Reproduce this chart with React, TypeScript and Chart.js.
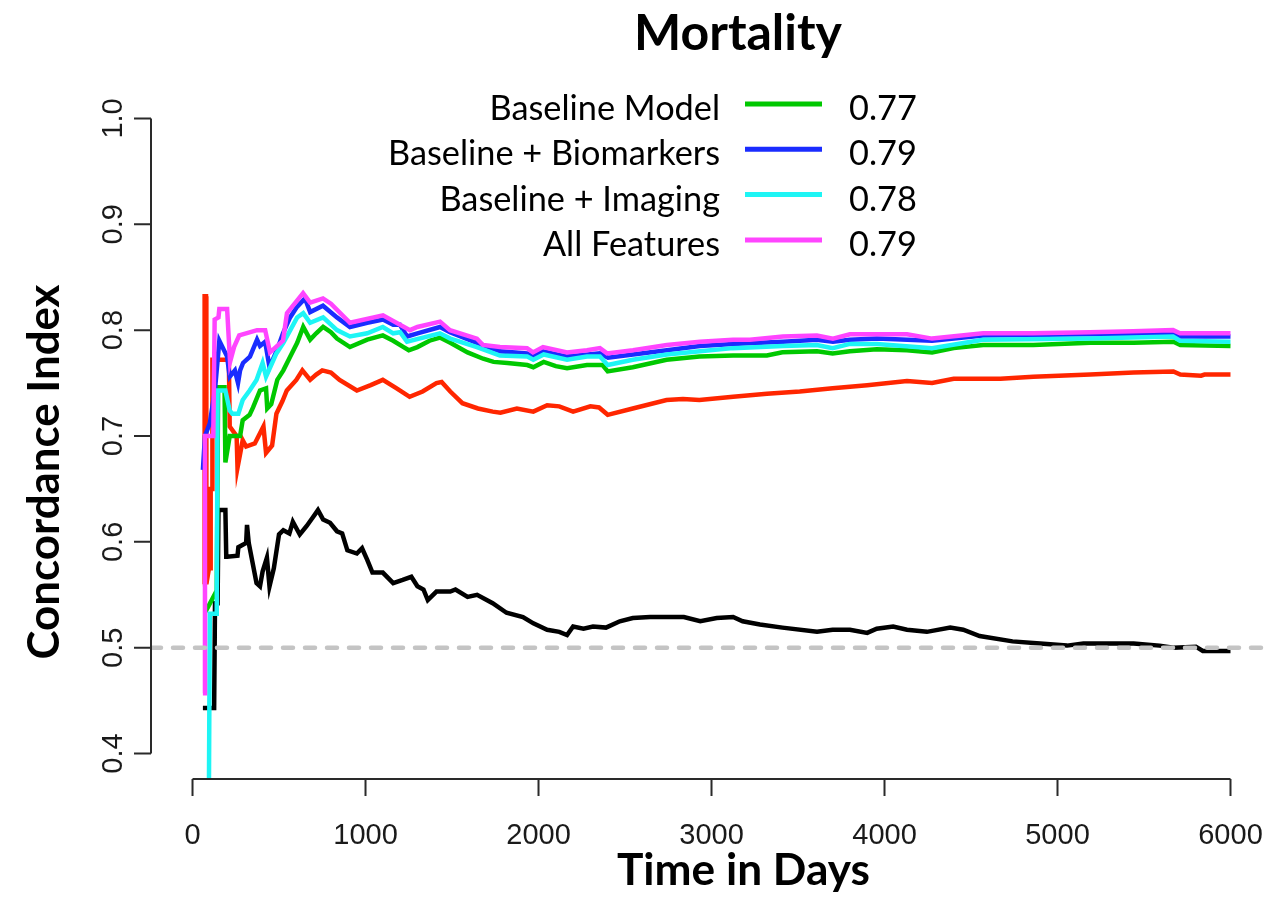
import { useEffect, useRef } from "react";
import { Chart, registerables } from "chart.js";

Chart.register(...registerables);

// ---- data ----
const xTicks = [0, 1000, 2000, 3000, 4000, 5000, 6000];
const yTicks = [0.4, 0.5, 0.6, 0.7, 0.8, 0.9, 1.0];
const xMin = -240;
const xMax = 6211;
const yMin = 0.376;
const yMax = 1.024;
const referenceValue = 0.5;

const legendNames = ["Baseline Model", "Baseline + Biomarkers", "Baseline + Imaging", "All Features"];
const legendCIndex = ["0.77", "0.79", "0.78", "0.79"];

const blackDays = [60, 125, 130, 145, 150, 190, 195, 200, 260, 265, 310, 315, 325, 370, 390, 405, 430, 445, 470, 500, 525, 560, 580, 620, 660, 695, 725, 755, 795, 835, 865, 895, 950, 980, 1010, 1040, 1100, 1160, 1215, 1265, 1300, 1335, 1360, 1410, 1490, 1520, 1590, 1645, 1735, 1815, 1910, 1970, 2050, 2120, 2165, 2200, 2260, 2315, 2390, 2470, 2545, 2645, 2840, 2935, 3030, 3125, 3180, 3280, 3410, 3610, 3700, 3800, 3900, 3955, 4050, 4130, 4245, 4380, 4455, 4550, 4740, 4900, 5055, 5150, 5440, 5590, 5670, 5800, 5840, 6000];
const blackValues = [0.443, 0.443, 0.542, 0.542, 0.63, 0.63, 0.586, 0.586, 0.587, 0.595, 0.599, 0.616, 0.599, 0.561, 0.558, 0.572, 0.585, 0.558, 0.575, 0.607, 0.611, 0.608, 0.619, 0.607, 0.615, 0.623, 0.63, 0.621, 0.618, 0.61, 0.608, 0.592, 0.589, 0.594, 0.583, 0.571, 0.571, 0.561, 0.564, 0.567, 0.558, 0.555, 0.545, 0.553, 0.553, 0.555, 0.548, 0.55, 0.542, 0.533, 0.529, 0.523, 0.517, 0.515, 0.512, 0.52, 0.518, 0.52, 0.519, 0.525, 0.528, 0.529, 0.529, 0.525, 0.528, 0.529, 0.525, 0.522, 0.519, 0.515, 0.517, 0.517, 0.514, 0.518, 0.52, 0.517, 0.515, 0.519, 0.517, 0.511, 0.506, 0.504, 0.502, 0.504, 0.504, 0.502, 0.5, 0.501, 0.497, 0.497];

const redDays = [60, 68, 70, 78, 80, 95, 103, 105, 113, 115, 210, 215, 255, 260, 290, 310, 360, 410, 425, 460, 485, 520, 545, 600, 635, 680, 715, 750, 800, 850, 950, 1030, 1100, 1180, 1255, 1330, 1410, 1440, 1490, 1560, 1650, 1735, 1780, 1875, 1970, 2050, 2120, 2200, 2300, 2350, 2400, 2545, 2740, 2835, 2930, 3125, 3320, 3510, 3700, 3900, 4130, 4275, 4400, 4670, 4860, 5190, 5440, 5670, 5710, 5830, 5850, 6000];
const redValues = [0.56, 0.56, 0.832, 0.832, 0.56, 0.575, 0.575, 0.65, 0.65, 0.772, 0.772, 0.709, 0.7, 0.67, 0.696, 0.69, 0.693, 0.709, 0.684, 0.691, 0.721, 0.733, 0.743, 0.753, 0.762, 0.753, 0.758, 0.762, 0.76, 0.753, 0.743, 0.748, 0.753, 0.745, 0.737, 0.742, 0.75, 0.751, 0.742, 0.731, 0.726, 0.723, 0.722, 0.726, 0.723, 0.729, 0.728, 0.723, 0.728, 0.727, 0.72, 0.726, 0.734, 0.735, 0.734, 0.737, 0.74, 0.742, 0.745, 0.748, 0.752, 0.75, 0.754, 0.754, 0.756, 0.758, 0.76, 0.761, 0.758, 0.757, 0.758, 0.758];

const greenDays = [75, 140, 148, 185, 190, 215, 275, 290, 330, 350, 390, 425, 432, 455, 490, 525, 565, 605, 640, 680, 715, 755, 800, 835, 910, 1010, 1100, 1160, 1220, 1250, 1300, 1370, 1430, 1490, 1590, 1680, 1740, 1820, 1935, 1970, 2030, 2100, 2165, 2280, 2370, 2400, 2545, 2740, 2930, 3125, 3320, 3410, 3610, 3700, 3800, 3955, 4130, 4275, 4400, 4570, 4860, 5190, 5440, 5670, 5710, 6000];
const greenValues = [0.534, 0.554, 0.746, 0.746, 0.675, 0.7, 0.7, 0.715, 0.72, 0.727, 0.743, 0.745, 0.726, 0.73, 0.753, 0.762, 0.775, 0.788, 0.803, 0.791, 0.797, 0.803, 0.798, 0.792, 0.784, 0.791, 0.795, 0.79, 0.784, 0.781, 0.784, 0.79, 0.793, 0.788, 0.779, 0.773, 0.77, 0.769, 0.767, 0.765, 0.77, 0.766, 0.764, 0.767, 0.767, 0.761, 0.765, 0.772, 0.775, 0.776, 0.776, 0.779, 0.78, 0.778, 0.78, 0.782, 0.781, 0.779, 0.783, 0.786, 0.786, 0.788, 0.788, 0.789, 0.786, 0.785];

const blueDays = [60, 72, 100, 130, 155, 200, 215, 245, 263, 275, 292, 332, 373, 390, 420, 445, 488, 523, 564, 604, 650, 680, 754, 835, 910, 1010, 1101, 1160, 1199, 1240, 1300, 1431, 1488, 1644, 1777, 1934, 1968, 2026, 2165, 2355, 2402, 2546, 2742, 2933, 3124, 3413, 3609, 3702, 3800, 3956, 4275, 4570, 5188, 5668, 5708, 6000];
const blueValues = [0.668, 0.7, 0.712, 0.744, 0.79, 0.775, 0.756, 0.762, 0.75, 0.762, 0.769, 0.775, 0.791, 0.785, 0.789, 0.765, 0.781, 0.797, 0.812, 0.822, 0.83, 0.817, 0.823, 0.812, 0.803, 0.807, 0.81, 0.805, 0.805, 0.794, 0.797, 0.803, 0.798, 0.788, 0.78, 0.778, 0.775, 0.78, 0.775, 0.778, 0.774, 0.777, 0.781, 0.785, 0.787, 0.789, 0.791, 0.789, 0.791, 0.792, 0.79, 0.795, 0.796, 0.797, 0.794, 0.794];

const cyanDays = [80, 95, 100, 140, 145, 190, 215, 230, 265, 290, 330, 370, 405, 425, 485, 525, 565, 605, 640, 680, 755, 835, 910, 1010, 1100, 1160, 1200, 1240, 1430, 1490, 1644, 1777, 1935, 1970, 2030, 2165, 2280, 2355, 2400, 2545, 2742, 2933, 3124, 3413, 3609, 3700, 3800, 3956, 4275, 4570, 5188, 5668, 5708, 6000];
const cyanValues = [0.37, 0.37, 0.532, 0.532, 0.743, 0.743, 0.724, 0.721, 0.721, 0.734, 0.743, 0.753, 0.769, 0.756, 0.778, 0.788, 0.8, 0.812, 0.816, 0.807, 0.812, 0.8, 0.794, 0.797, 0.803, 0.797, 0.798, 0.789, 0.797, 0.792, 0.784, 0.776, 0.775, 0.772, 0.777, 0.772, 0.775, 0.775, 0.767, 0.772, 0.777, 0.78, 0.783, 0.785, 0.786, 0.783, 0.787, 0.787, 0.783, 0.791, 0.792, 0.794, 0.79, 0.789];

const magentaDays = [60, 70, 72, 120, 128, 150, 155, 200, 217, 240, 270, 373, 420, 448, 523, 546, 639, 680, 754, 800, 910, 1101, 1257, 1300, 1431, 1488, 1644, 1679, 1777, 1934, 1968, 2026, 2165, 2280, 2355, 2396, 2546, 2742, 2933, 3124, 3222, 3413, 3609, 3702, 3800, 3956, 4130, 4275, 4570, 4859, 5188, 5437, 5668, 5708, 6000];
const magentaValues = [0.457, 0.457, 0.7, 0.7, 0.81, 0.812, 0.82, 0.82, 0.77, 0.784, 0.795, 0.8, 0.8, 0.779, 0.79, 0.816, 0.835, 0.826, 0.83, 0.825, 0.807, 0.814, 0.8, 0.803, 0.808, 0.8, 0.792, 0.786, 0.784, 0.783, 0.779, 0.784, 0.779, 0.781, 0.783, 0.778, 0.781, 0.786, 0.789, 0.791, 0.791, 0.794, 0.795, 0.792, 0.796, 0.796, 0.796, 0.792, 0.797, 0.797, 0.798, 0.799, 0.8, 0.797, 0.797];

const COLORS = {
  black: "#000000",
  red: "#ff2600",
  green: "#00c800",
  blue: "#1a2cff",
  cyan: "#1ef5f5",
  magenta: "#ff45ff",
  ref: "#c4c4c4",
};
const legendColors = [COLORS.green, COLORS.blue, COLORS.cyan, COLORS.magenta];

const toXY = (days: number[], vals: number[]) => days.map((d, i) => ({ x: d, y: vals[i] }));

function fitSize(ctx: CanvasRenderingContext2D, text: string, width: number, weight: string, family: string) {
  ctx.font = `${weight} 100px ${family}`;
  const w = ctx.measureText(text).width;
  return (100 * width) / w;
}

const decorPlugin = {
  id: "decor",
  afterDraw(chart: any) {
    const ctx: CanvasRenderingContext2D = chart.ctx;
    const xs = chart.scales.x;
    const ys = chart.scales.y;
    const area = chart.chartArea;
    const tickLen = 17;
    const axisColor = "#2a2a2a";
    ctx.save();
    ctx.strokeStyle = axisColor;
    ctx.lineWidth = 2;
    ctx.lineCap = "butt";

    // x axis
    const xb = area.bottom;
    ctx.beginPath();
    ctx.moveTo(xs.getPixelForValue(xTicks[0]), xb);
    ctx.lineTo(xs.getPixelForValue(xTicks[xTicks.length - 1]), xb);
    xTicks.forEach((t) => {
      const px = xs.getPixelForValue(t);
      ctx.moveTo(px, xb);
      ctx.lineTo(px, xb + tickLen);
    });
    ctx.stroke();

    // y axis
    const yl = area.left;
    ctx.beginPath();
    ctx.moveTo(yl, ys.getPixelForValue(yTicks[0]));
    ctx.lineTo(yl, ys.getPixelForValue(yTicks[yTicks.length - 1]));
    yTicks.forEach((t) => {
      const py = ys.getPixelForValue(t);
      ctx.moveTo(yl, py);
      ctx.lineTo(yl - tickLen, py);
    });
    ctx.stroke();

    // tick labels
    ctx.fillStyle = "#1a1a1a";
    ctx.font = "29px 'Liberation Sans', Arial, sans-serif";
    ctx.textAlign = "center";
    ctx.textBaseline = "alphabetic";
    xTicks.forEach((t) => {
      ctx.fillText(String(t), xs.getPixelForValue(t), 844);
    });
    yTicks.forEach((t) => {
      ctx.save();
      ctx.translate(122, ys.getPixelForValue(t));
      ctx.rotate(-Math.PI / 2);
      ctx.fillText(t.toFixed(1), 0, 0);
      ctx.restore();
    });

    const fam = "Lato, 'Open Sans', sans-serif";
    ctx.fillStyle = "#000";
    // main title
    let s = fitSize(ctx, "Mortality", 208, "bold", fam);
    ctx.font = `bold ${s}px ${fam}`;
    ctx.textAlign = "center";
    ctx.fillText("Mortality", 738, 50);

    // x title
    s = fitSize(ctx, "Time in Days", 253, "bold", fam);
    ctx.font = `bold ${s}px ${fam}`;
    ctx.fillText("Time in Days", 743.5, 885);

    // y title
    s = fitSize(ctx, "Concordance Index", 375, "bold", fam);
    ctx.font = `bold ${s}px ${fam}`;
    ctx.save();
    ctx.translate(59, 472);
    ctx.rotate(-Math.PI / 2);
    ctx.fillText("Concordance Index", 0, 0);
    ctx.restore();

    // legend
    s = fitSize(ctx, "Baseline + Biomarkers", 332, "normal", fam);
    legendNames.forEach((name, i) => {
      const base = 120 + i * 45.3;
      ctx.font = `normal ${s}px ${fam}`;
      ctx.fillStyle = "#000";
      ctx.textAlign = "right";
      ctx.fillText(name, 720, base);
      ctx.textAlign = "left";
      ctx.fillText(legendCIndex[i], 849, base);
      ctx.strokeStyle = legendColors[i];
      ctx.lineWidth = 5;
      ctx.beginPath();
      ctx.moveTo(745, base - 16);
      ctx.lineTo(822, base - 16);
      ctx.stroke();
    });
    ctx.restore();
  },
};

export default function App() {
  const canvasRef = useRef<HTMLCanvasElement | null>(null);

  useEffect(() => {
    const canvas = canvasRef.current;
    if (!canvas) return;
    const lineDs = (label: string, days: number[], vals: number[], color: string) => ({
      label,
      data: toXY(days, vals),
      borderColor: color,
      backgroundColor: color,
      borderWidth: 4.5,
      pointRadius: 0,
      tension: 0,
      fill: false,
      clip: 0,
      borderJoinStyle: "miter" as const,
    });
    const chart = new Chart(canvas, {
      type: "line",
      data: {
        datasets: [
          {
            label: "reference",
            data: [
              { x: xMin, y: referenceValue },
              { x: xMax, y: referenceValue },
            ],
            borderColor: COLORS.ref,
            borderWidth: 4.5,
            borderDash: [10, 12],
            borderCapStyle: "round",
            pointRadius: 0,
            fill: false,
            clip: 0,
          } as any,
          lineDs(legendNames[3], magentaDays, magentaValues, COLORS.magenta),
          lineDs(legendNames[2], cyanDays, cyanValues, COLORS.cyan),
          lineDs(legendNames[1], blueDays, blueValues, COLORS.blue),
          lineDs(legendNames[0], greenDays, greenValues, COLORS.green),
          lineDs("Other", redDays, redValues, COLORS.red),
          lineDs("Random", blackDays, blackValues, COLORS.black),
        ],
      },
      options: {
        responsive: false,
        animation: false,
        devicePixelRatio: 1,
        layout: { padding: { left: 151, top: 93, right: 0, bottom: 122 } },
        plugins: { legend: { display: false }, tooltip: { enabled: false }, title: { display: false } },
        events: [],
        scales: {
          x: { type: "linear", min: xMin, max: xMax, display: false },
          y: { type: "linear", min: yMin, max: yMax, display: false },
        },
      },
      plugins: [decorPlugin],
    });
    return () => chart.destroy();
  }, []);

  return (
    <div style={{ position: "fixed", left: 0, top: 0, width: 1267, height: 901, background: "#fff" }}>
      <canvas ref={canvasRef} width={1267} height={901} style={{ display: "block" }} />
    </div>
  );
}
